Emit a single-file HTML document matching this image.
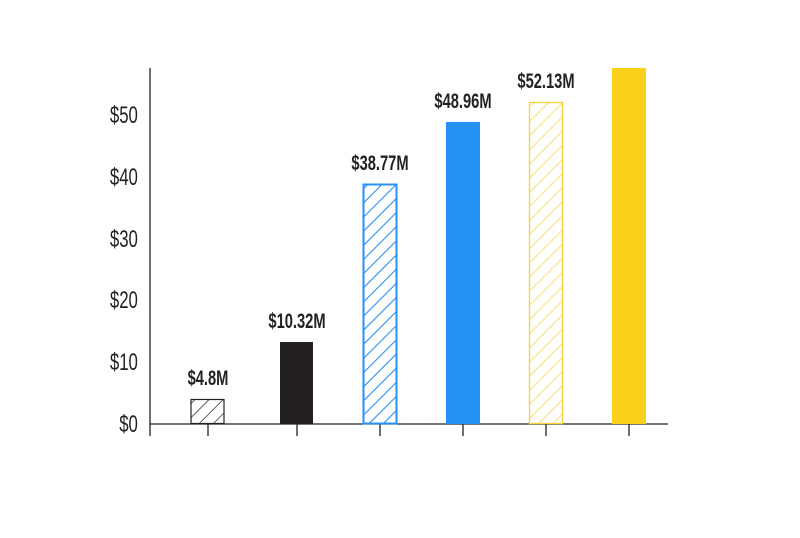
<!DOCTYPE html>
<html><head><meta charset="utf-8"><style>
html,body{margin:0;padding:0;background:#fff;}
svg text{font-family:"Liberation Sans Narrow","Liberation Sans",sans-serif;}
</style></head><body>
<svg width="800" height="533" xmlns="http://www.w3.org/2000/svg">
<defs>
<pattern id="hk" width="10" height="10" patternUnits="userSpaceOnUse" patternTransform="rotate(45)"><line x1="0" y1="0" x2="0" y2="10" stroke="#222" stroke-width="1.4"/></pattern>
<pattern id="hb" width="10" height="10" patternUnits="userSpaceOnUse" patternTransform="rotate(45)"><line x1="0" y1="0" x2="0" y2="10" stroke="#2a90f0" stroke-width="2.2"/></pattern>
<pattern id="hy" width="10" height="10" patternUnits="userSpaceOnUse" patternTransform="rotate(45)"><line x1="0" y1="0" x2="0" y2="10" stroke="#f7d23a" stroke-width="1.4"/></pattern>
</defs>
<line x1="150" y1="68" x2="150" y2="436" stroke="#222" stroke-width="1.3"/>
<line x1="150" y1="424" x2="668" y2="424" stroke="#222" stroke-width="1.3"/>
<g font-size="24" fill="#222" text-anchor="end" transform="scale(0.7,1)">
<text x="197" y="432">$0</text>
<text x="197" y="370">$10</text>
<text x="197" y="308">$20</text>
<text x="197" y="247">$30</text>
<text x="197" y="185">$40</text>
<text x="197" y="123">$50</text>
</g>
<g stroke="#222" stroke-width="1.3">
<line x1="208" y1="424" x2="208" y2="436"/><line x1="297" y1="424" x2="297" y2="436"/>
<line x1="380" y1="424" x2="380" y2="436"/><line x1="463" y1="424" x2="463" y2="436"/>
<line x1="546" y1="424" x2="546" y2="436"/><line x1="629" y1="424" x2="629" y2="436"/>
</g>
<rect x="191" y="399.5" width="33" height="24" fill="url(#hk)" stroke="#222" stroke-width="1.2"/>
<rect x="280" y="342" width="33" height="82" fill="#231f20"/>
<rect x="363.5" y="184.5" width="33" height="239" fill="url(#hb)" stroke="#2a90f0" stroke-width="2"/>
<rect x="446" y="122" width="34" height="302" fill="#2591f5"/>
<rect x="529.5" y="102.5" width="33" height="321" fill="url(#hy)" stroke="#f7d23a" stroke-width="1.3"/>
<rect x="612" y="68" width="34" height="356" fill="#fbd01a"/>
<g font-size="21" font-weight="bold" fill="#222" text-anchor="middle">
<text transform="translate(208,385) scale(0.7,1)">$4.8M</text>
<text transform="translate(297,328) scale(0.7,1)">$10.32M</text>
<text transform="translate(380,170) scale(0.7,1)">$38.77M</text>
<text transform="translate(463,108) scale(0.7,1)">$48.96M</text>
<text transform="translate(546,88) scale(0.7,1)">$52.13M</text>
</g>
</svg>
</body></html>
